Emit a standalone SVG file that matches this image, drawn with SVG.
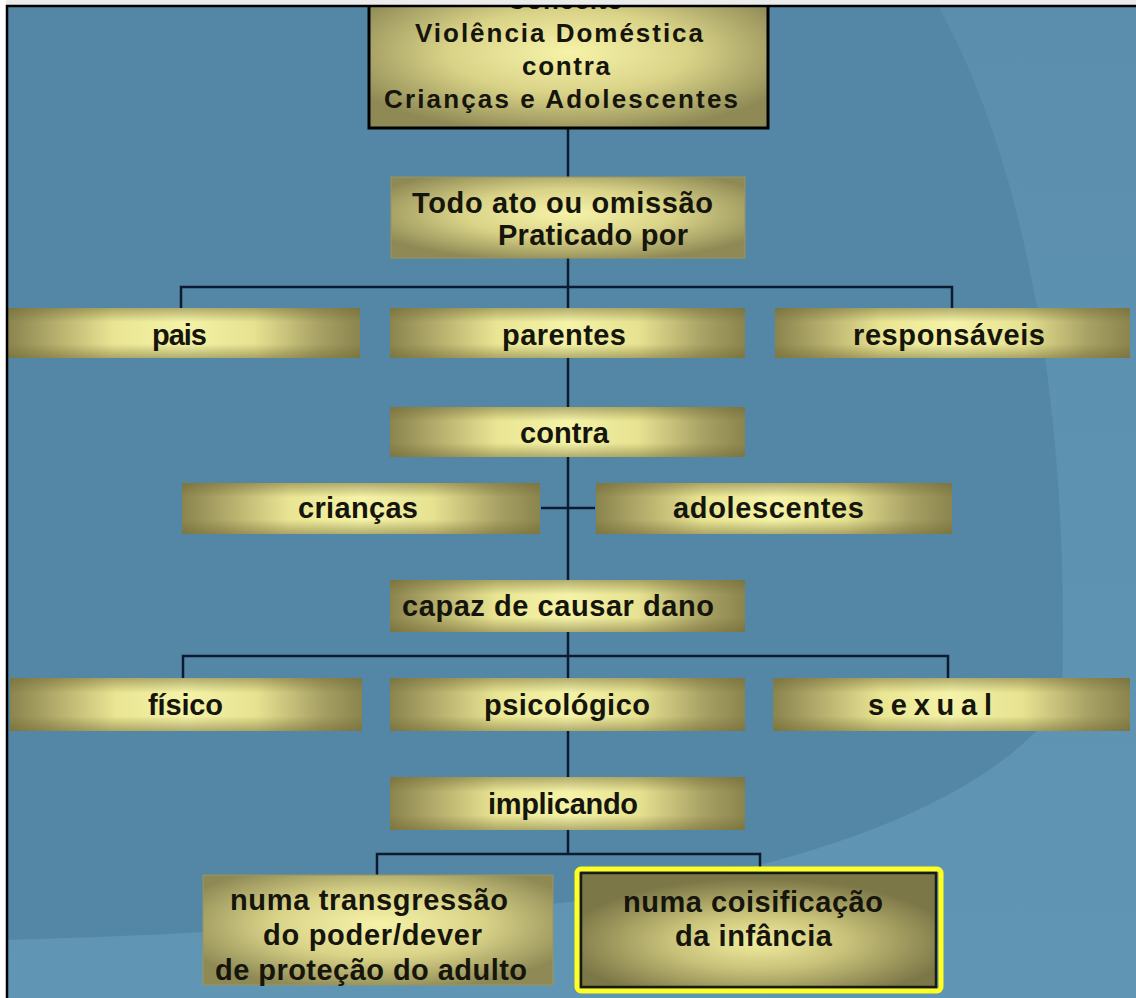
<svg xmlns="http://www.w3.org/2000/svg" width="1136" height="998" viewBox="0 0 1136 998">
<defs>
<linearGradient id="gBarH" x1="0" y1="0" x2="1" y2="0">
<stop offset="0" stop-color="#8a844e"/>
<stop offset="0.12" stop-color="#b0a969"/>
<stop offset="0.3" stop-color="#e9e593"/>
<stop offset="0.5" stop-color="#f5f3a8"/>
<stop offset="0.7" stop-color="#e6e291"/>
<stop offset="0.88" stop-color="#a9a265"/>
<stop offset="1" stop-color="#8a844e"/>
</linearGradient>
<linearGradient id="gBarV" x1="0" y1="0" x2="0" y2="1">
<stop offset="0" stop-color="#6e6632" stop-opacity="0.5"/>
<stop offset="0.28" stop-color="#6e6632" stop-opacity="0"/>
<stop offset="0.72" stop-color="#6e6632" stop-opacity="0"/>
<stop offset="1" stop-color="#6e6632" stop-opacity="0.5"/>
</linearGradient>
<radialGradient id="gBox" cx="50%" cy="45%" r="60%">
<stop offset="0" stop-color="#f6f3a8"/>
<stop offset="0.5" stop-color="#d9d388"/>
<stop offset="1" stop-color="#8f8a55"/>
</radialGradient>
<radialGradient id="gDark" cx="50%" cy="60%" r="55%">
<stop offset="0" stop-color="#f1ee9f"/>
<stop offset="0.45" stop-color="#c9c27a"/>
<stop offset="1" stop-color="#7c7747"/>
</radialGradient>
<linearGradient id="gBg" x1="0" y1="0" x2="0" y2="1">
<stop offset="0" stop-color="#5a8eac"/>
<stop offset="1" stop-color="#6096b4"/>
</linearGradient>
<style>
.bar{fill:url(#gBarH)}
.barv{fill:url(#gBarV)}
.box{fill:url(#gBox);stroke:#9a9560;stroke-width:1}
.lbl{font-family:"Liberation Sans Narrow","Liberation Sans",Arial,sans-serif;font-weight:bold;font-size:29px;fill:#15150c}
.ttl{font-family:"Liberation Sans Narrow","Liberation Sans",Arial,sans-serif;font-weight:bold;font-size:26px;fill:#15150c}
.con{fill:none;stroke:#0c1a32;stroke-width:2.5}
</style>
</defs>
<rect x="0" y="0" width="1136" height="998" fill="url(#gBg)"/>
<path d="M0,0 H935 C1030,170 1070,420 1062,700 C1000,790 850,855 620,895 C450,920 200,935 0,940 Z" fill="#5387a5"/>

<g id="connectors">
<path class="con" d="M568,128 V178"/>
<path class="con" d="M568,258 V308 M181,308 V287 H952 V308"/>
<path class="con" d="M568,358 V407"/>
<path class="con" d="M568,457 V580 M541,508 H595"/>
<path class="con" d="M568,632 V678 M183,678 V656 H948 V678"/>
<path class="con" d="M568,731 V777"/>
<path class="con" d="M568,830 V854 M377,875 V854 H760 V870"/>
</g>

<g id="n-top">
<rect x="369" y="-10" width="399" height="138" fill="url(#gBox)" stroke="#000" stroke-width="3"/>
<text class="ttl" x="507" y="9" textLength="116" lengthAdjust="spacing">Conceito</text>
<text class="ttl" x="415" y="42" textLength="288" lengthAdjust="spacing">Violência Doméstica</text>
<text class="ttl" x="522" y="75" textLength="88" lengthAdjust="spacing">contra</text>
<text class="ttl" x="384" y="108" textLength="354" lengthAdjust="spacing">Crianças e Adolescentes</text>
</g>

<g id="n-todo">
<rect class="box" x="391" y="177" width="354" height="81"/>
<text class="lbl" x="412" y="213" textLength="301" lengthAdjust="spacing">Todo ato ou omissão</text>
<text class="lbl" x="498" y="245" textLength="190" lengthAdjust="spacing">Praticado por</text>
</g>

<g id="n-pais">
<rect class="bar" x="8" y="308" width="352" height="50"/><rect class="barv" x="8" y="308" width="352" height="50"/>
<text class="lbl" x="152" y="345" textLength="55" lengthAdjust="spacing">pais</text>
</g>
<g id="n-parentes">
<rect class="bar" x="390" y="308" width="355" height="50"/><rect class="barv" x="390" y="308" width="355" height="50"/>
<text class="lbl" x="502" y="345" textLength="124" lengthAdjust="spacing">parentes</text>
</g>
<g id="n-responsaveis">
<rect class="bar" x="775" y="308" width="355" height="50"/><rect class="barv" x="775" y="308" width="355" height="50"/>
<text class="lbl" x="853" y="345" textLength="192" lengthAdjust="spacing">responsáveis</text>
</g>

<g id="n-contra">
<rect class="bar" x="390" y="407" width="355" height="50"/><rect class="barv" x="390" y="407" width="355" height="50"/>
<text class="lbl" x="520" y="443" textLength="89" lengthAdjust="spacing">contra</text>
</g>

<g id="n-criancas">
<rect class="bar" x="182" y="483" width="358" height="51"/><rect class="barv" x="182" y="483" width="358" height="51"/>
<text class="lbl" x="298" y="518" textLength="120" lengthAdjust="spacing">crianças</text>
</g>
<g id="n-adolescentes">
<rect class="bar" x="596" y="483" width="356" height="51"/><rect class="barv" x="596" y="483" width="356" height="51"/>
<text class="lbl" x="673" y="518" textLength="191" lengthAdjust="spacing">adolescentes</text>
</g>

<g id="n-capaz">
<rect class="bar" x="390" y="580" width="355" height="52"/><rect class="barv" x="390" y="580" width="355" height="52"/>
<text class="lbl" x="402" y="616" textLength="312" lengthAdjust="spacing">capaz de causar dano</text>
</g>

<g id="n-fisico">
<rect class="bar" x="10" y="678" width="352" height="53"/><rect class="barv" x="10" y="678" width="352" height="53"/>
<text class="lbl" x="148" y="715" textLength="75" lengthAdjust="spacing">físico</text>
</g>
<g id="n-psicologico">
<rect class="bar" x="390" y="678" width="355" height="53"/><rect class="barv" x="390" y="678" width="355" height="53"/>
<text class="lbl" x="484" y="715" textLength="166" lengthAdjust="spacing">psicológico</text>
</g>
<g id="n-sexual">
<rect class="bar" x="773" y="678" width="357" height="53"/><rect class="barv" x="773" y="678" width="357" height="53"/>
<text class="lbl" x="868" y="715" textLength="124" lengthAdjust="spacing">sexual</text>
</g>

<g id="n-implicando">
<rect class="bar" x="390" y="777" width="355" height="53"/><rect class="barv" x="390" y="777" width="355" height="53"/>
<text class="lbl" x="488" y="814" textLength="150" lengthAdjust="spacing">implicando</text>
</g>

<g id="n-transgressao">
<rect class="box" x="203" y="875" width="350" height="110"/>
<text class="lbl" x="230" y="910" textLength="278" lengthAdjust="spacing">numa transgressão</text>
<text class="lbl" x="263" y="945" textLength="219" lengthAdjust="spacing">do poder/dever</text>
<text class="lbl" x="215" y="980" textLength="312" lengthAdjust="spacing">de proteção do adulto</text>
</g>

<g id="n-coisificacao">
<rect x="577" y="869" width="364" height="122" fill="none" stroke="#ffff20" stroke-width="5" rx="4"/>
<rect x="581" y="873" width="355" height="114" fill="url(#gDark)" stroke="#1a1a10" stroke-width="2.5"/>
<text class="lbl" x="623" y="912" textLength="260" lengthAdjust="spacing">numa coisificação</text>
<text class="lbl" x="675" y="946" textLength="157" lengthAdjust="spacing">da infância</text>
</g>

<g id="frame">
<rect x="0" y="0" width="1136" height="5" fill="#ececec"/>
<rect x="0" y="0" width="6" height="998" fill="#ffffff"/>
<path d="M7,998 V6 H1136" fill="none" stroke="#000" stroke-width="2.5"/>
</g>
</svg>
